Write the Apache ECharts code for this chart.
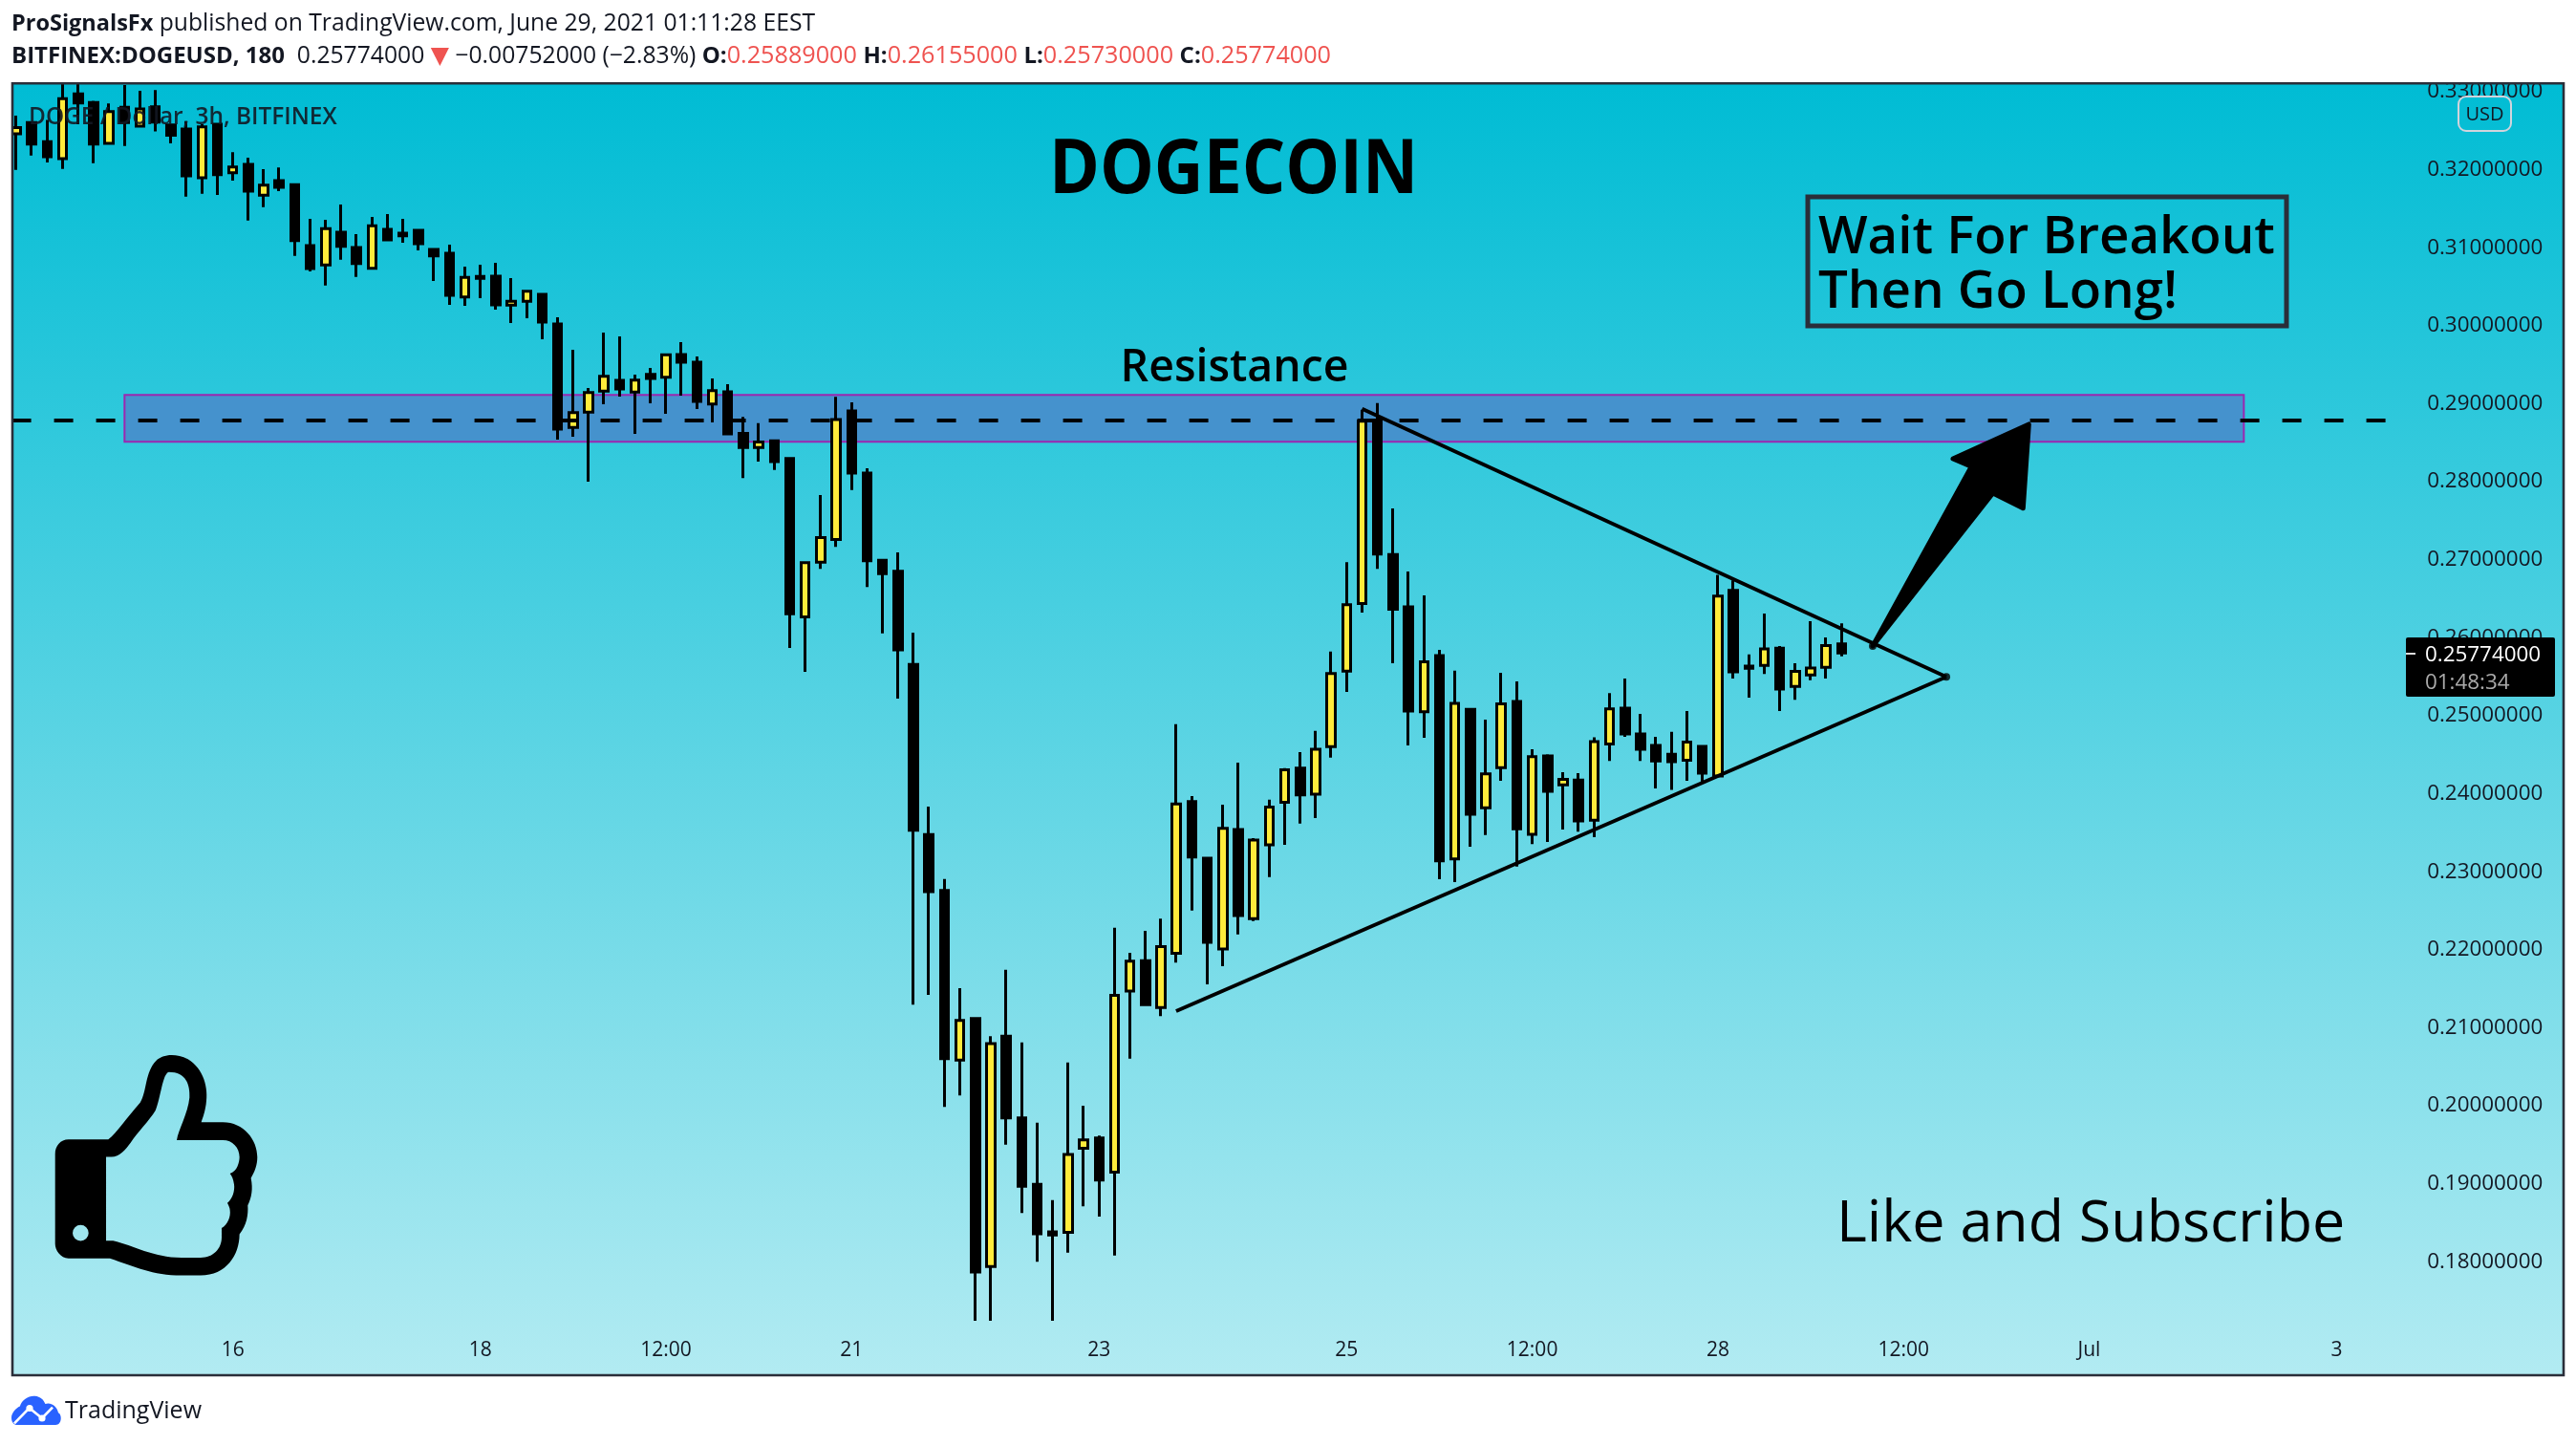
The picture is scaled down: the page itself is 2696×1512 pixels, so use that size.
<!DOCTYPE html>
<html><head><meta charset="utf-8">
<style>html,body{margin:0;padding:0;background:#fff}#c{width:2696px;height:1512px}</style>
<script src="https://cdn.jsdelivr.net/npm/echarts@6/dist/echarts.min.js"></script>
</head><body><div id="c"></div>
<script>
const opens=[.32429,.32572,.32327,.32110,.32939,.32829,.32306,.32768,.32527,.32776,.32543,.32490,.31865,.32551,.31931,.32037,.31641,.31829,.31776,.30996,
.30747,.31167,.30971,.30706,.31204,.31155,.31192,.30947,.30898,.30338,.30600,.30604,.30232,.30281,.30371,.29991,.28664,.28860,.29129,.29268,
.29117,.29346,.29309,.29599,.29501,.28966,.29121,.28588,.28408,.28494,.28267,.26236,.26939,.27228,.28877,.28080,.26963,.26822,.25627,.23447,
.22728,.20556,.21088,.17908,.20861,.19814,.18963,.18354,.18346,.19424,.19556,.19119,.21439,.21830,.21228,.21924,.23869,.23142,.21978,.23510,
.22369,.23314,.23861,.24299,.23963,.24572,.25541,.26408,.28760,.27037,.26366,.25020,.25741,.23135,.25052,.23788,.24304,.25152,.23448,.24454,
.24082,.24145,.23629,.24608,.25065,.24735,.24590,.24476,.24399,.24576,.24195,.26575,.25605,.25614,.25836,.25346,.25492,.25591,.25889];
const closes=[.32507,.32298,.32135,.32878,.32825,.32298,.32715,.32572,.32747,.32580,.32409,.31890,.32519,.31906,.32004,.31694,.31771,.31743,.31061,.30702,
.31212,.30987,.30767,.31249,.31069,.31122,.31020,.30865,.30359,.30587,.30575,.30236,.30281,.30412,.30016,.28644,.28856,.29113,.29321,.29158,
.29272,.29293,.29595,.29501,.28999,.29138,.28582,.28408,.28478,.28228,.26275,.26931,.27252,.28767,.28080,.26955,.26791,.25814,.23502,.22713,
.20572,.21064,.17838,.20767,.19814,.18939,.18330,.18314,.19346,.19533,.19017,.21385,.21822,.21267,.22010,.23838,.23158,.22064,.23525,.22408,
.23377,.23799,.24275,.23955,.24541,.25510,.26392,.28744,.27041,.26334,.25029,.25659,.23108,.25129,.23706,.24223,.25120,.23520,.24445,.24000,
.24155,.23620,.24639,.25056,.24735,.24540,.24390,.24381,.24630,.24232,.26502,.25532,.25578,.25827,.25310,.25537,.25582,.25868,.25774];
const lows=[.31967,.32151,.32061,.31980,.32551,.32053,.32298,.32274,.32519,.32458,.32306,.31624,.31661,.31645,.31829,.31318,.31490,.31694,.30865,.30665,
.30485,.30816,.30595,.30702,.31057,.31032,.30934,.30542,.30236,.30224,.30322,.30175,.30003,.30065,.29795,.28509,.28546,.27970,.28962,.29060,
.28582,.28974,.28840,.29072,.28901,.28729,.28575,.28017,.28228,.28119,.25838,.25533,.26853,.27135,.27861,.26619,.26025,.25189,.21267,.21392,
.19955,.20103,.17213,.17213,.19471,.18596,.17971,.17213,.18088,.18681,.18549,.18049,.20572,.21260,.21119,.21806,.22471,.21525,.21760,.22166,
.22338,.22900,.23314,.23588,.23658,.24431,.25275,.26291,.26853,.25641,.24590,.24685,.22872,.22836,.23289,.23439,.24136,.23035,.23325,.23352,
.23511,.23484,.23411,.24390,.24698,.24390,.24037,.24019,.24136,.24123,.24190,.25446,.25201,.25505,.25029,.25174,.25424,.25446,.25730];
const highs=[.32662,.32580,.32605,.33100,.33100,.32850,.32817,.33054,.32980,.32988,.32551,.32592,.32551,.32551,.32192,.32123,.31976,.31996,.31796,.31339,
.31326,.31522,.31143,.31363,.31400,.31339,.31204,.30950,.31008,.30726,.30751,.30775,.30579,.30416,.30375,.30077,.29660,.29170,.29881,.29832,
.29342,.29428,.29599,.29758,.29575,.29293,.29219,.28799,.28721,.28510,.28270,.26935,.27799,.29056,.28986,.28142,.26970,.27064,.26033,.23806,
.22877,.21478,.21090,.20861,.21713,.20783,.19752,.18760,.20525,.19971,.19588,.22252,.21931,.22213,.22369,.24861,.23939,.23150,.23830,.24369,
.23400,.23892,.24299,.24502,.24775,.25791,.26939,.28892,.28978,.27626,.26819,.26511,.25813,.25546,.25060,.24920,.25519,.25410,.24540,.24476,
.24245,.24232,.24694,.25260,.25446,.24993,.24698,.24762,.25029,.24585,.26774,.26706,.25754,.26280,.25863,.25641,.26180,.25972,.26155];

const barSlots=165;
const xTickBars=[14,30,42,54,70,86,98,110,122,134,150];
const xTickLabels=['16','18','12:00','21','23','25','12:00','28','12:00','Jul','3'];
const hiddenPriceTick=0.17;

const resistanceBand=[7,144,0.2908,0.2848];
const resistanceLevel=[-0.272,153.2,0.28754];
const upperTrend=[[87,0.28904],[124.77,0.25467]];
const lowerTrend=[[74.98,0.21183],[124.77,0.25467]];
const arrowX=[120.01,126.39,125.2,130.10,129.73,127.78];
const arrowY=[0.25863,0.28162,0.28264,0.28705,0.2763,0.27823];
const pivotDots=[[120.01,0.25863],[124.77,0.25467]];

const categories=Array.from({length:barSlots},(_,i)=>{const k=xTickBars.indexOf(i);return k<0?'':xTickLabels[k];});
const candles=opens.map((o,i)=>[o,closes[i],lows[i],highs[i]]);
const arrowPoints=arrowX.map((x,i)=>[x,arrowY[i]]);

const FONT='"Open Sans","Noto Sans",sans-serif';
const INK='#131722';
const RED='#ef5350';
const W=2696,H=1512;

const thumbPath='M215 430L340 430C365 410 400 360 440 315C462 280 455 220 490 185C510 165 550 160 590 180C640 210 655 270 647 320C643 345 638 360 632 376L700 376C765 376 808 430 808 485C808 510 800 530 788 550C795 585 790 610 778 635C780 665 775 695 752 725C752 790 710 853 630 853L570 853C480 853 420 825 345 800L215 800C190 800 173 775 173 755L173 475C173 450 190 430 215 430Z'
+'M333 484L333 745L355 745C420 760 480 797 570 798L630 798C670 798 696 770 696 735L696 706C715 695 725 670 722 650C722 645 718 635 714 628C730 615 738 590 735 570C733 555 728 542 722 536C745 530 752 500 752 485C752 455 730 432 700 432L555 432C560 400 590 350 595 300C597 260 585 220 530 220C510 225 505 300 488 340C470 370 430 410 410 440C395 460 375 484 350 484Z'
+'M278 721A25 25 0 1 0 228 721A25 25 0 1 0 278 721Z';
const cloudPath='M36 1300C36 1285 50 1270 62 1265C68 1245 90 1232 108 1234C125 1236 135 1245 140 1258C155 1252 175 1262 180 1285C192 1290 192 1322 172 1322L55 1322C42 1322 36 1312 36 1300Z';

const chart=echarts.init(document.getElementById('c'),null,{renderer:'canvas',width:W,height:H});
const txt=(x,y,text,size,weight,opt={})=>({type:'text',z:opt.z??1001,x,y,silent:true,scaleX:opt.scaleX||1,style:{text,font:`${weight} ${size}px ${FONT}`,fill:opt.fill||'#000',align:opt.align||'left',verticalAlign:'middle'}});
const rich={
 p:{fontFamily:'Open Sans',fontWeight:700,fontSize:23.5,fill:INK},
 b:{fontFamily:'Open Sans',fontWeight:700,fontSize:24,fill:INK},
 n:{fontFamily:'Open Sans',fontWeight:400,fontSize:24.7,fill:INK},
 r:{fontFamily:'Open Sans',fontWeight:400,fontSize:25.2,fill:RED},
 t:{fontFamily:'DejaVu Sans',fontSize:25,fill:RED}
};
const iconSeries=(path,z,x,y,width,height,fill)=>({type:'custom',coordinateSystem:'none',silent:true,z,clip:false,data:[0],
  renderItem:()=>({type:'path',shape:{pathData:path,x,y,width,height,layout:'cover'},style:{fill}})});
chart.setOption({
 animation:false,
 backgroundColor:'#fff',
 grid:{left:8.9,width:2671.35,top:93.37,height:1306.08,containLabel:false},
 xAxis:[
  {type:'category',data:categories,boundaryGap:true,axisLine:{show:false},axisTick:{show:false},splitLine:{show:false},
   axisLabel:{interval:0,margin:3,color:INK,fontFamily:'Open Sans',fontSize:21,hideOverlap:false}},
  {type:'value',min:-0.5,max:barSlots-0.5,show:false,splitLine:{show:false}}
 ],
 yAxis:{type:'value',min:0.17,max:0.33,interval:0.01,position:'right',axisLine:{show:false},axisTick:{show:false},splitLine:{show:false},
  axisLabel:{inside:true,margin:19,verticalAlign:'top',lineHeight:5,color:INK,fontFamily:'Open Sans',fontSize:22.4,formatter:v=>Math.abs(v-hiddenPriceTick)<1e-6?'':v.toFixed(8)}},
 series:[
  {type:'line',xAxisIndex:1,data:[],z:1,
   markArea:{silent:true,z:1,itemStyle:{color:'#4592cd',borderColor:'#9c27b0',borderWidth:2,opacity:1},
    data:[[{xAxis:resistanceBand[0],yAxis:resistanceBand[2]},{xAxis:resistanceBand[1],yAxis:resistanceBand[3]}]]}},
  {type:'candlestick',xAxisIndex:0,data:candles,clip:false,z:3,barWidth:9,
   itemStyle:{color:'#ffeb3b',color0:'#000',borderColor:'#000',borderColor0:'#000',borderColorDoji:'#000',borderWidth:3}},
  {type:'line',xAxisIndex:1,z:4,clip:false,showSymbol:false,silent:true,data:[[resistanceLevel[0],resistanceLevel[2]],[resistanceLevel[1],resistanceLevel[2]]],
   lineStyle:{color:'#000',width:4,type:[20,24]}},
  {type:'line',xAxisIndex:1,z:5,clip:false,showSymbol:false,silent:true,data:upperTrend,lineStyle:{color:'#000',width:4}},
  {type:'line',xAxisIndex:1,z:5,clip:false,showSymbol:false,silent:true,data:lowerTrend,lineStyle:{color:'#000',width:4}},
  {type:'custom',xAxisIndex:1,z:6,clip:false,silent:true,data:arrowPoints,encode:{x:0,y:1},
   renderItem:(p,api)=>{ if(p.dataIndex!==0) return null;
     return {type:'polygon',shape:{points:arrowPoints.map(a=>api.coord(a))},style:{fill:'#000',stroke:'#000',lineWidth:5,lineJoin:'round'}};}},
  {type:'scatter',xAxisIndex:1,z:6,clip:false,silent:true,data:pivotDots,symbolSize:8,itemStyle:{color:'#000'}},
  iconSeries(thumbPath,5,57.7,1104,211.6,230.5,'#000'),
  iconSeries(cloudPath,1002,12,1460.7,51.8,30.3,'#2962ff')
 ],
 graphic:{elements:[
  {type:'rect',z:-10,silent:true,shape:{x:13,y:87,width:2670,height:1352},
   style:{fill:new echarts.graphic.LinearGradient(0,0,0,1,[{offset:0,color:'#00bcd4'},{offset:1,color:'#b2ebf2'}])}},
  txt(1291,180,'DOGECOIN',78,700,{align:'center',z:50,scaleX:0.917}),
  txt(1292,386,'Resistance',46.4,600,{align:'center',z:50}),
  txt(1903,249,'Wait For Breakout',54.6,600,{z:50}),
  txt(1903,306,'Then Go Long!',54.6,600,{z:50}),
  {type:'rect',z:50,silent:true,shape:{x:1892,y:206,width:501,height:135},style:{fill:'none',stroke:'#2a2e39',lineWidth:5}},
  txt(1922,1282,'Like and Subscribe',61,400,{z:50}),
  txt(30,123,'DOGE / Dollar, 3h, BITFINEX',24.4,600,{z:50,fill:'rgba(19,23,34,0.9)'}),
  {type:'rect',z:900,silent:true,shape:{x:2518,y:667,width:156,height:62,r:2},style:{fill:'#000'}},
  {type:'rect',z:901,silent:true,shape:{x:2518,y:683,width:10,height:2},style:{fill:'#ddd'}},
  txt(2538,686,'0.25774000',22.4,400,{z:901,fill:'#fff'}),
  txt(2538,715,'01:48:34',22.4,400,{z:901,fill:'#aaa'}),
  {type:'rect',z:901,silent:true,shape:{x:2573,y:101,width:55,height:36,r:8},style:{fill:'none',stroke:'#d1d4dc',lineWidth:2}},
  txt(2600.5,120,'USD',20,400,{z:901,align:'center',fill:INK}),
  {type:'rect',z:1000,silent:true,shape:{x:0,y:0,width:W,height:86},style:{fill:'#fff'}},
  {type:'rect',z:1000,silent:true,shape:{x:0,y:0,width:12,height:H},style:{fill:'#fff'}},
  {type:'rect',z:1000,silent:true,shape:{x:0,y:1440,width:W,height:72},style:{fill:'#fff'}},
  {type:'rect',z:1000,silent:true,shape:{x:2684,y:0,width:12,height:H},style:{fill:'#fff'}},
  {type:'rect',z:1001,silent:true,shape:{x:13,y:87.3,width:2670,height:1351.7},style:{fill:'none',stroke:'#2a2e39',lineWidth:2.6}},
  {type:'text',z:1002,silent:true,x:12,y:25,style:{text:'{p|ProSignalsFx}{n| published on TradingView.com, June 29, 2021 01:11:28 EEST}',rich,verticalAlign:'middle'}},
  {type:'text',z:1002,silent:true,x:12,y:59,style:{text:'{b|BITFINEX:DOGEUSD, 180}{n|  0.25774000 }{t|▼}{n| −0.00752000 (−2.83%) }{b|O:}{r|0.25889000 }{b|H:}{r|0.26155000 }{b|L:}{r|0.25730000 }{b|C:}{r|0.25774000}',rich,verticalAlign:'middle'}},
  {type:'polyline',z:1003,silent:true,x:0,y:1050,scaleX:1/3,scaleY:1/3,shape:{points:[[45,1318],[92,1270],[132,1302],[165,1268]]},style:{fill:'none',stroke:'#fff',lineWidth:8}},
  {type:'circle',z:1003,silent:true,shape:{cx:31,cy:1473.5,r:3.6},style:{fill:'#fff'}},
  {type:'circle',z:1003,silent:true,shape:{cx:44,cy:1484,r:3.6},style:{fill:'#fff'}},
  txt(68,1477,'TradingView',25,400,{z:1002,fill:INK})
 ]}
});
</script></body></html>
